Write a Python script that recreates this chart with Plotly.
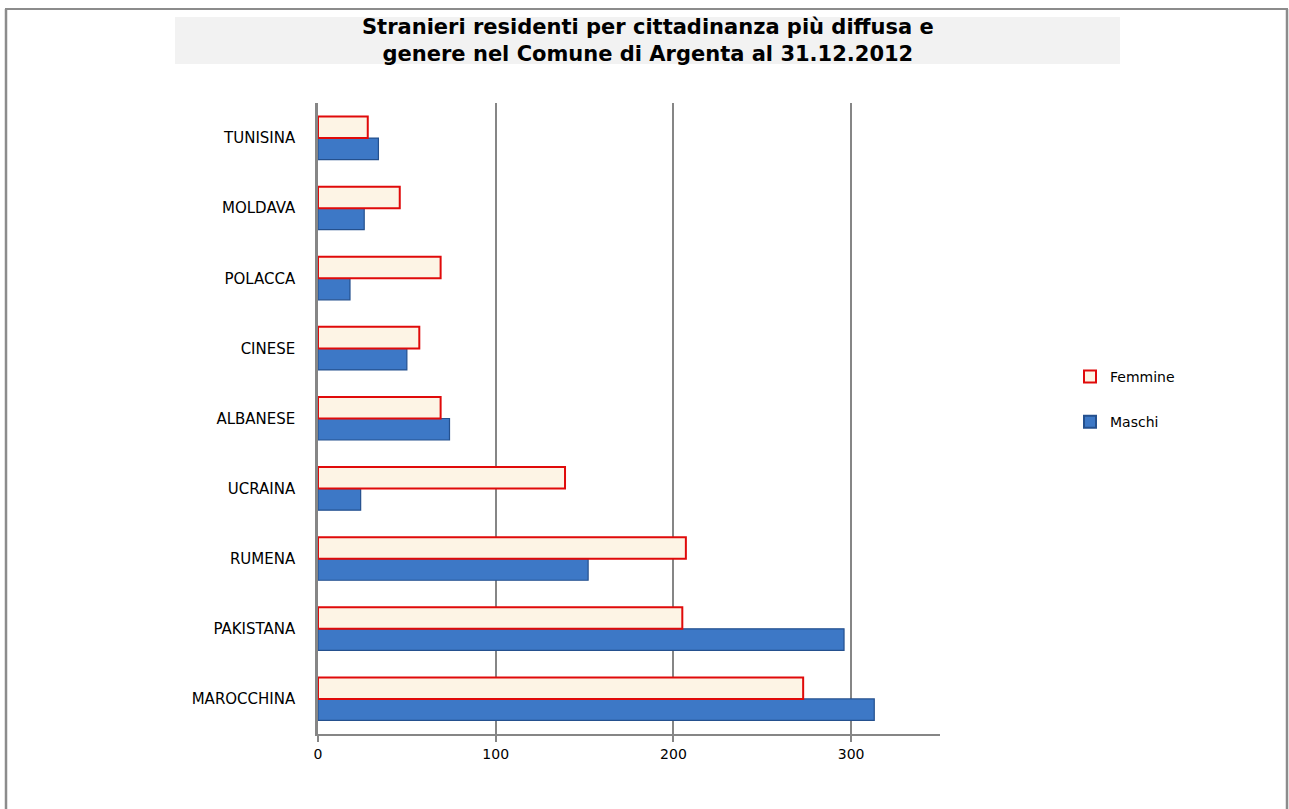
import plotly.graph_objects as go

# Data (bottom to top as shown on the chart)
categories = ["MAROCCHINA", "PAKISTANA", "RUMENA", "UCRAINA", "ALBANESE",
              "CINESE", "POLACCA", "MOLDAVA", "TUNISINA"]
maschi = [313, 296, 152, 24, 74, 50, 18, 26, 34]
femmine = [273, 205, 207, 139, 69, 57, 69, 46, 28]
x_ticks = [0, 100, 200, 300]
title_text = "Stranieri residenti per cittadinanza più diffusa e<br>genere nel Comune di Argenta al 31.12.2012"

W, H = 1289, 809
L, R, T, B = 318, 349, 103, 75
pw, ph = W - L - R, H - T - B


def px(xp):
    return (xp - L) / pw


def py(yp):
    return (H - B - yp) / ph


FONT = "DejaVu Sans"
GRID = "#868686"

fig = go.Figure()
fig.add_trace(go.Bar(
    y=categories, x=maschi, orientation="h", name="Maschi",
    legendgroup="m", legendrank=2,
    marker=dict(color="#3d78c6", line=dict(color="#24508e", width=1.2)),
))
fig.add_trace(go.Bar(
    y=categories, x=femmine, orientation="h", name="Femmine",
    legendgroup="f", legendrank=1,
    marker=dict(color="#fdf4e5", line=dict(color="#e00a0a", width=2)),
))

shapes = [
    # outer frame
    dict(type="line", xref="paper", yref="paper", x0=px(5), x1=px(1288), y0=py(9), y1=py(9),
         line=dict(color="#8c8c8c", width=2)),
    dict(type="line", xref="paper", yref="paper", x0=px(6), x1=px(6), y0=py(9), y1=py(812),
         line=dict(color="#8c8c8c", width=2.5)),
    dict(type="line", xref="paper", yref="paper", x0=px(1287), x1=px(1287), y0=py(9), y1=py(812),
         line=dict(color="#8c8c8c", width=2.5)),
    # title background
    dict(type="rect", xref="paper", yref="paper", x0=px(175), x1=px(1120), y0=py(17), y1=py(64),
         fillcolor="#f2f2f2", line=dict(width=0), layer="below"),
]

fig.update_layout(
    width=W, height=H,
    margin=dict(l=L, r=R, t=T, b=B, autoexpand=False),
    paper_bgcolor="white", plot_bgcolor="white",
    barmode="group", bargap=0.386, bargroupgap=0,
    font=dict(family=FONT, color="black", size=13),
    shapes=shapes,
    annotations=[dict(
        text="<b>" + title_text + "</b>", xref="paper", yref="paper",
        x=px(647.5), y=py(41), xanchor="center", yanchor="middle", showarrow=False,
        font=dict(family=FONT, size=21, color="black"),
    )],
    legend=dict(
        x=px(1070), y=py(361), xanchor="left", yanchor="top",
        traceorder="grouped", tracegroupgap=24, itemsizing="constant",
        font=dict(family=FONT, size=14, color="black"),
        bgcolor="rgba(0,0,0,0)",
    ),
    showlegend=True,
)

fig.update_xaxes(
    range=[0, 350], tickvals=x_ticks, ticktext=[str(v) for v in x_ticks],
    showgrid=True, gridcolor=GRID, gridwidth=1.5,
    showline=True, linecolor=GRID, linewidth=1.5,
    ticks="outside", ticklen=6, tickcolor=GRID, tickwidth=1.5,
    tickfont=dict(family=FONT, size=14, color="black"),
    zeroline=False, fixedrange=True,
)
fig.update_yaxes(
    categoryorder="array", categoryarray=categories,
    showline=True, linecolor=GRID, linewidth=2.5,
    showgrid=False, zeroline=False,
    ticks="", ticklabelstandoff=17,
    tickfont=dict(family=FONT, size=15, color="black"),
    fixedrange=True,
)

fig.write_html("out.html")
